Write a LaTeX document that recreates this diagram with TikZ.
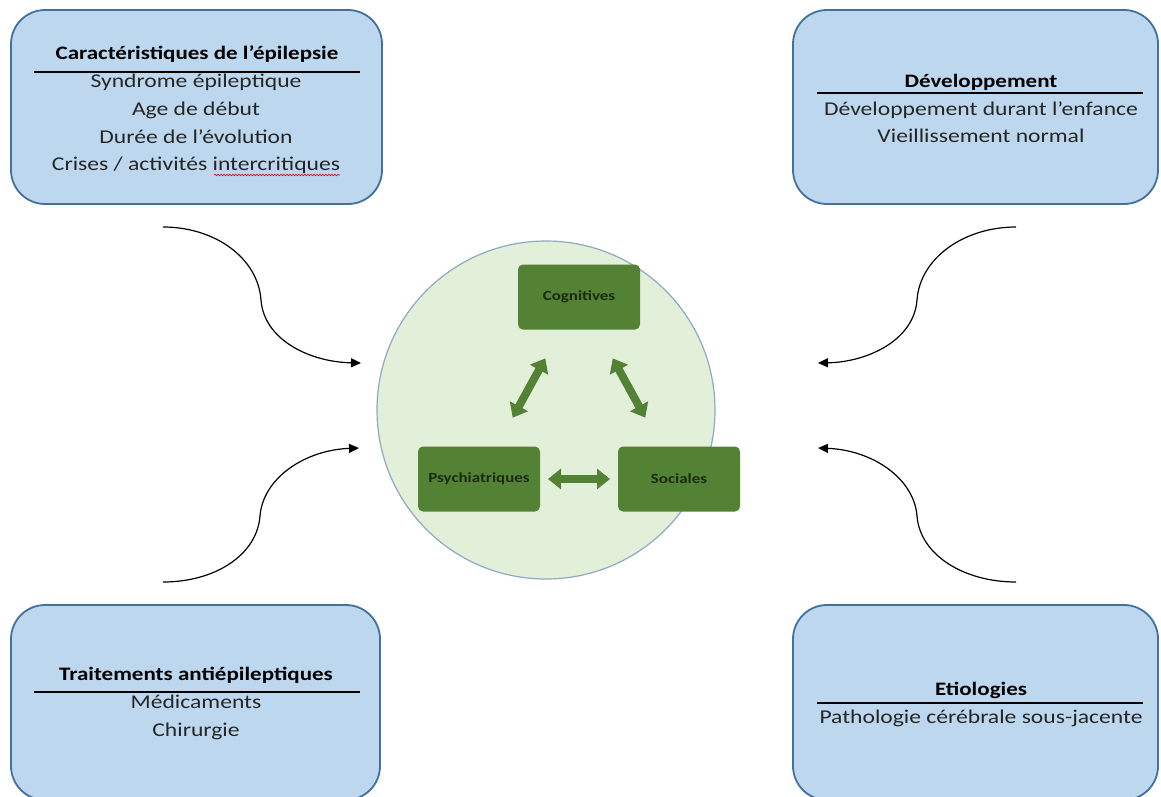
\documentclass[tikz,border=0pt]{standalone}
\usepackage{fontspec}
\setmainfont{Carlito}[FakeStretch=1.21]
\usetikzlibrary{arrows.meta,decorations.pathmorphing}
\definecolor{boxfill}{HTML}{BDD7EE}
\definecolor{boxline}{HTML}{41719C}
\definecolor{circfill}{HTML}{E2EFD9}
\definecolor{circline}{HTML}{8FAAC0}
\definecolor{gfill}{HTML}{548235}
\definecolor{gtext}{HTML}{1B2A10}
\begin{document}
\begin{tikzpicture}[x=1pt,y=-1pt,
  infobox/.style={draw=boxline, line width=1.8pt, fill=boxfill, rounded corners=34pt, inner sep=0pt},
  ttl/.style={anchor=base, font=\fontsize{19}{22}\selectfont\bfseries, inner sep=0pt},
  itm/.style={anchor=base, font=\fontsize{19.5}{22}\selectfont, inner sep=0pt, text=black!85},
  rule/.style={line width=1.1pt, black},
  gbox/.style={draw=none, fill=gfill, rounded corners=5pt, minimum width=122pt, minimum height=65pt, inner sep=0pt, text=gtext, font=\fontsize{14}{16}\selectfont\bfseries},
  garrow/.style={draw=gfill, line width=8pt, {Triangle[length=13pt,width=20pt]}-{Triangle[length=13pt,width=20pt]}, shorten <=70pt, shorten >=70pt},
  curvearrow/.style={line width=1.2pt, black, -{Triangle[length=10pt,width=9pt]}}
]
\useasboundingbox (0,0) rectangle (1161,796);
\clip (0,0) rectangle (1161,796);
\fill[white] (0,0) rectangle (1161,796);

% info boxes
\node[infobox, minimum width=371pt, minimum height=194pt] (tl) at (196.5,107) {};
\node[infobox, minimum width=365pt, minimum height=194pt] (tr) at (975.5,107) {};
\node[infobox, minimum width=369pt, minimum height=195pt] (bl) at (195.5,702.5) {};
\node[infobox, minimum width=365pt, minimum height=195pt] (br) at (975.5,702.5) {};

% top-left text
\node[ttl] (tlt) at (197,59) {Caractéristiques de l’épilepsie};
\draw[rule] (34,72) -- (360,72);
\node[itm] (tl1) at (196,87) {Syndrome épileptique};
\node[itm] (tl2) at (196,115) {Age de début};
\node[itm] (tl3) at (196,143) {Durée de l’évolution};
\node[itm] (tl4) at (196,170) {Crises / activités intercritiques};
\draw[red!85!black, line width=0.6pt, decorate, decoration={snake, amplitude=0.8pt, segment length=3pt}] (214,175) -- (340,175);

% top-right text
\node[ttl] (trt) at (981,87) {Développement};
\draw[rule] (817,93) -- (1143,93);
\node[itm] (tr1) at (981,115) {Développement durant l’enfance};
\node[itm] (tr2) at (981,142) {Vieillissement normal};

% bottom-left text
\node[ttl] (blt) at (196,680) {Traitements antiépileptiques};
\draw[rule] (34,692) -- (360,692);
\node[itm] (bl1) at (196,708) {Médicaments};
\node[itm] (bl2) at (196,736) {Chirurgie};

% bottom-right text
\node[ttl] (brt) at (981,695) {Etiologies};
\draw[rule] (817,703) -- (1143,703);
\node[itm] (br1) at (981,723) {Pathologie cérébrale sous-jacente};

% central circle
\node[circle, draw=circline, line width=1.2pt, fill=circfill, minimum size=338pt, inner sep=0pt] (circ) at (546,410) {};

\node[gbox] (cog) at (579,297) {Cognitives};
\node[gbox] (psy) at (479,479) {Psychiatriques};
\node[gbox] (soc) at (679,479) {Sociales};

\draw[garrow] (cog.center) -- (psy.center);
\draw[garrow] (cog.center) -- (soc.center);
\draw[garrow, shorten <=69pt, shorten >=69pt] (psy.center) -- (soc.center);

% curved arrows
\coordinate (a1s) at (163,227);
\coordinate (a1m) at (261,300);
\coordinate (a1e) at (361,363);
\coordinate (a2s) at (163,582);
\coordinate (a2m) at (260,516);
\coordinate (a2e) at (359,448);
\coordinate (a3s) at (1016,227);
\coordinate (a3m) at (917,300);
\coordinate (a3e) at (818,363);
\coordinate (a4s) at (1016,582);
\coordinate (a4m) at (917,516);
\coordinate (a4e) at (818,448);

\draw[curvearrow] (a1s) .. controls (215,227) and (258,258) .. (a1m) .. controls (264,340) and (310,362) .. (a1e);
\draw[curvearrow] (a2s) .. controls (215,582) and (257,555) .. (a2m) .. controls (263,478) and (305,450) .. (a2e);
\draw[curvearrow] (a3s) .. controls (964,227) and (920,258) .. (a3m) .. controls (914,340) and (868,362) .. (a3e);
\draw[curvearrow] (a4s) .. controls (964,582) and (920,555) .. (a4m) .. controls (914,478) and (872,450) .. (a4e);
\end{tikzpicture}
\end{document}
